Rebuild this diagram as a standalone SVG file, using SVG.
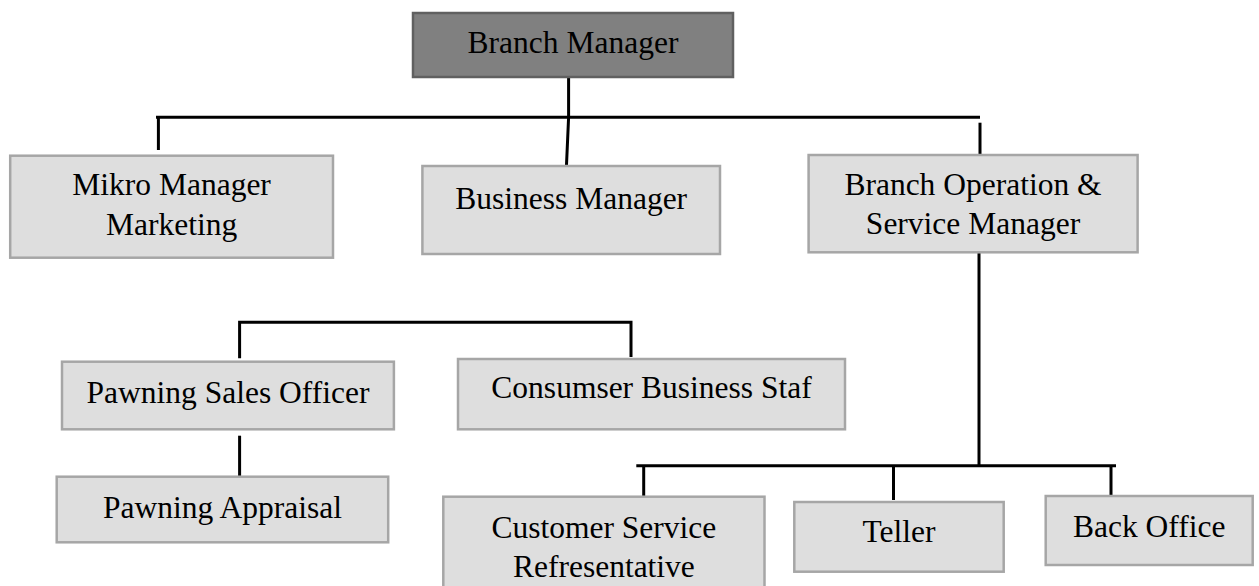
<svg xmlns="http://www.w3.org/2000/svg" width="1259" height="586" viewBox="0 0 1259 586">
  <style>
    .box { fill: #dedede; stroke: #a6a6a6; stroke-width: 2.5; }
    .top { fill: #808080; stroke: #606060; stroke-width: 2.5; }
    .lbl { font-family: "Liberation Serif", "Times New Roman", serif; font-size: 31.5px; fill: #000; text-anchor: middle; }
    .wire { stroke: #000; stroke-width: 3; fill: none; }
  </style>
  <rect width="1259" height="586" fill="#fff"/>

  <!-- connectors -->
  <g id="connectors">
    <path class="wire" d="M568.6,77 L568.6,117.3 L566.5,165"/>
    <path class="wire" d="M156,117.3 L980,117.3"/>
    <path class="wire" d="M158.4,117.3 L158.4,150"/>
    <path class="wire" d="M980,122.7 L980,155"/>
    <path class="wire" d="M979,248 L979,465.7"/>
    <path class="wire" d="M636.3,465.7 L1116,465.7"/>
    <path class="wire" d="M643.7,465.7 L643.7,496"/>
    <path class="wire" d="M893.5,465.7 L893.5,500"/>
    <path class="wire" d="M1111,465.7 L1111,496"/>
    <path class="wire" d="M239.6,358.3 L239.6,322.3 L631,322.3 L631,357"/>
    <path class="wire" d="M239.6,435.7 L239.6,476"/>
  </g>

  <g id="branch-manager">
    <rect class="top" x="413" y="13" width="320" height="64"/>
    <text class="lbl" x="573" y="53.3">Branch Manager</text>
  </g>

  <g id="mikro-manager">
    <rect class="box" x="10.2" y="155.7" width="322.8" height="102"/>
    <text class="lbl" x="171.6" y="195">Mikro Manager</text>
    <text class="lbl" x="171.6" y="235">Marketing</text>
  </g>

  <g id="business-manager">
    <rect class="box" x="422.4" y="166" width="297.6" height="88"/>
    <text class="lbl" x="571.2" y="209">Business Manager</text>
  </g>

  <g id="operation-manager">
    <rect class="box" x="808.6" y="155" width="329" height="97.3"/>
    <text class="lbl" x="973" y="195">Branch Operation &amp;</text>
    <text class="lbl" x="973" y="234.3">Service Manager</text>
  </g>

  <g id="pawning-sales">
    <rect class="box" x="62" y="361.7" width="331.9" height="67.6"/>
    <text class="lbl" x="228" y="402.7">Pawning Sales Officer</text>
  </g>

  <g id="consumer-staff">
    <rect class="box" x="458" y="359" width="387" height="70.3"/>
    <text class="lbl" x="651.5" y="398.3">Consumser Business Staf</text>
  </g>

  <g id="pawning-appraisal">
    <rect class="box" x="56.7" y="476.7" width="331.5" height="65.6"/>
    <text class="lbl" x="222.5" y="517.7">Pawning Appraisal</text>
  </g>

  <g id="customer-service">
    <rect class="box" x="443.3" y="496.7" width="321.2" height="100"/>
    <text class="lbl" x="603.9" y="538.3">Customer Service</text>
    <text class="lbl" x="603.9" y="576.7">Refresentative</text>
  </g>

  <g id="teller">
    <rect class="box" x="794.3" y="502" width="209.4" height="69.7"/>
    <text class="lbl" x="899" y="541.7">Teller</text>
  </g>

  <g id="back-office">
    <rect class="box" x="1045.7" y="496" width="207" height="69"/>
    <text class="lbl" x="1149.2" y="536.7">Back Office</text>
  </g>
</svg>
